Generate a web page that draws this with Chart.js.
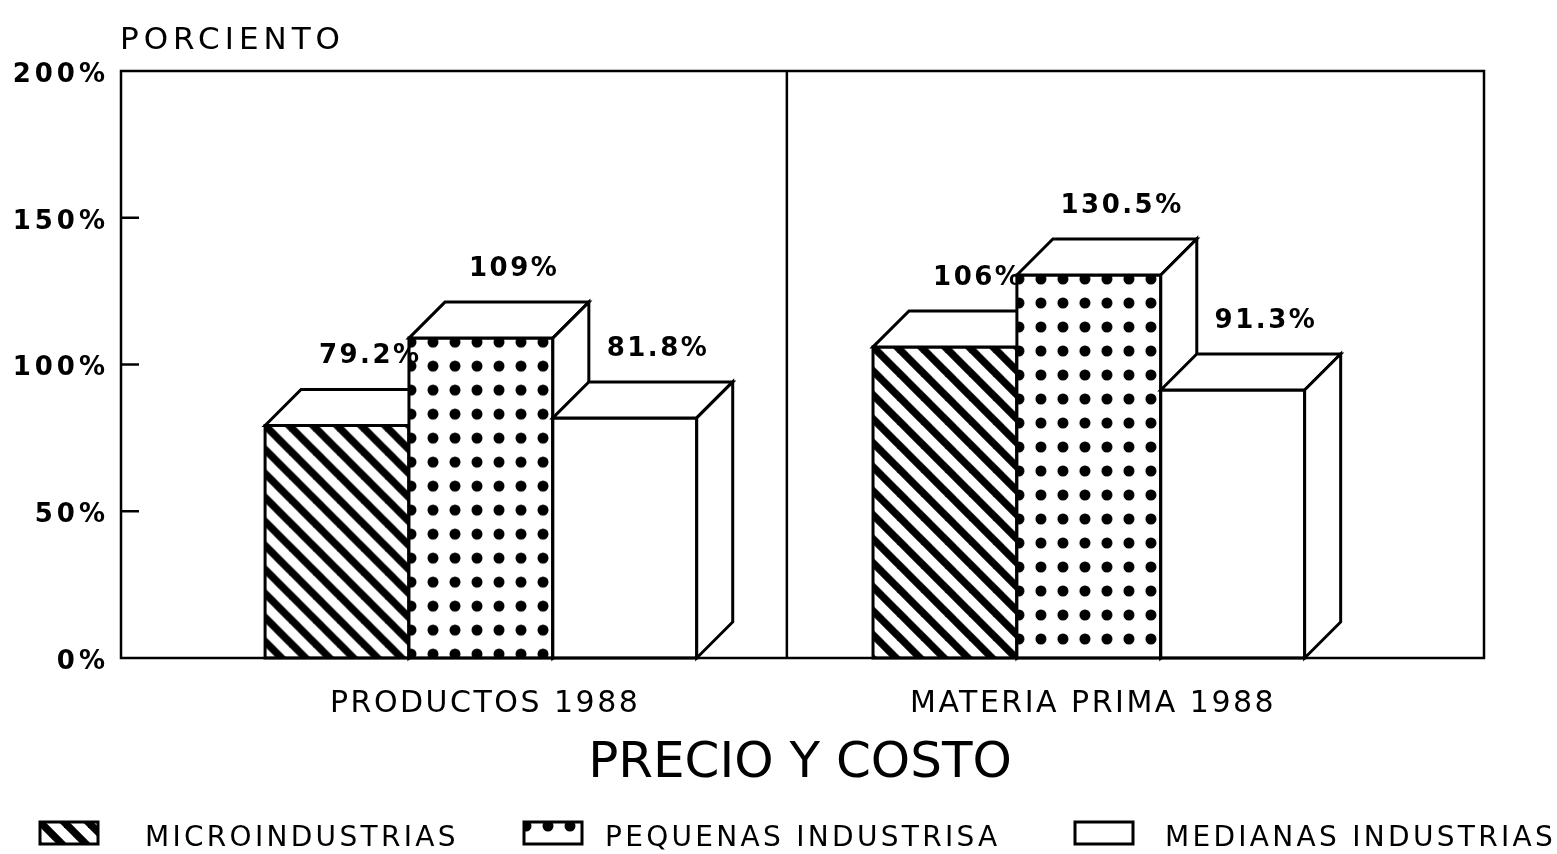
<!DOCTYPE html>
<html>
<head>
<meta charset="utf-8">
<script src="https://cdn.jsdelivr.net/npm/chart.js@4.4.1/dist/chart.umd.min.js"></script>
<style>
  html, body { margin: 0; padding: 0; background: #fff; }
</style>
</head>
<body>
<canvas id="chart" width="1557" height="854"></canvas>
<script>
const categories = ['PRODUCTOS 1988', 'MATERIA PRIMA 1988']
const positions = [0, 1]
const seriesNames = ['MICROINDUSTRIAS', 'PEQUENAS INDUSTRISA', 'MEDIANAS INDUSTRIAS']
const micro = [79.2, 106]
const pequenas = [109, 130.5]
const medianas = [81.8, 91.3]
const yTicks = [0, 50, 100, 150, 200]

const series = [micro, pequenas, medianas]
const DEPTH = 36
const FONT = 'DejaVu Sans'

// diagonal "\" stripes
function makeHatch() {
  const p = 24
  const c = document.createElement('canvas')
  c.width = p; c.height = p
  const g = c.getContext('2d')
  g.fillStyle = '#fff'
  g.fillRect(0, 0, p, p)
  g.strokeStyle = '#000'
  g.lineWidth = 7.5
  for (let k = -1; k <= 1; k++) {
    g.beginPath()
    g.moveTo(k * p - p, -p)
    g.lineTo(k * p + 2 * p, 2 * p)
    g.stroke()
  }
  return g.createPattern(c, 'repeat')
}

// grid of round dots
function makeDots() {
  const w = 22, h = 24
  const c = document.createElement('canvas')
  c.width = w; c.height = h
  const g = c.getContext('2d')
  g.fillStyle = '#fff'
  g.fillRect(0, 0, w, h)
  g.fillStyle = '#000'
  g.beginPath()
  g.arc(w / 2, h / 2, 5.5, 0, Math.PI * 2)
  g.fill()
  return g.createPattern(c, 'repeat')
}

const fills = [makeHatch(), makeDots(), '#fff']
// where each pattern's origin sits relative to the top-left of the face it fills
const fillOrigin = [[0, 0], [2 - 11, 4 - 12], [0, 0]]

function fillFace(ctx, i, left, top, scale) {
  const f = fills[i]
  if (typeof f !== 'string') {
    const m = new DOMMatrix().translate(left + fillOrigin[i][0], top + fillOrigin[i][1])
    f.setTransform(scale ? m.scale(scale) : m)
  }
  ctx.fillStyle = f
}

function spacedText(ctx, text, x, y, spacing, align) {
  ctx.letterSpacing = '0px'
  const w = ctx.measureText(text).width + spacing * (text.length - 1)
  const left = align === 'center' ? x - w / 2 : align === 'right' ? x - w : x
  ctx.letterSpacing = spacing + 'px'
  ctx.textAlign = 'left'
  ctx.fillText(text, left, y)
  ctx.letterSpacing = '0px'
}

function poly(ctx, pts) {
  ctx.beginPath()
  ctx.moveTo(pts[0][0], pts[0][1])
  for (let k = 1; k < pts.length; k++) ctx.lineTo(pts[k][0], pts[k][1])
  ctx.closePath()
  ctx.fill()
  ctx.stroke()
}

const boxes3d = {
  id: 'boxes3d',
  beforeDraw(chart) {
    // wider spacing for the y tick labels drawn by the scale
    chart.ctx.letterSpacing = '4px'
  },
  beforeDatasetsDraw(chart) {
    chart.ctx.letterSpacing = '0px'
  },
  afterDatasetsDraw(chart) {
    const { ctx, chartArea: a, scales: { x, y } } = chart
    ctx.save()
    ctx.strokeStyle = '#000'
    ctx.lineWidth = 2.5
    ctx.lineJoin = 'miter'

    // divider between the two groups
    const mid = x.getPixelForValue((positions[0] + positions[1]) / 2) + 2
    ctx.beginPath()
    ctx.moveTo(mid, a.top)
    ctx.lineTo(mid, a.bottom)
    ctx.stroke()

    // boxes, painted left to right so each front hides the previous side
    ctx.lineWidth = 3
    positions.forEach((p, j) => {
      series.forEach((vals, i) => {
        const bar = chart.getDatasetMeta(i).data[j]
        const L = bar.x - bar.width / 2
        const R = bar.x + bar.width / 2
        const T = bar.y
        const B = bar.base
        fillFace(ctx, i, L, T)
        poly(ctx, [[L, T], [R, T], [R, B], [L, B]])
        ctx.fillStyle = '#fff'
        poly(ctx, [[L, T], [L + DEPTH, T - DEPTH], [R + DEPTH, T - DEPTH], [R, T]])
        poly(ctx, [[R, T], [R + DEPTH, T - DEPTH], [R + DEPTH, B - DEPTH], [R, B]])
      })
    })

    // value labels above each box
    ctx.fillStyle = '#000'
    ctx.font = 'bold 26px "' + FONT + '"'
    ctx.textBaseline = 'middle'
    positions.forEach((p, j) => {
      series.forEach((vals, i) => {
        const bar = chart.getDatasetMeta(i).data[j]
        spacedText(ctx, vals[j] + '%', bar.x + 32, bar.y - DEPTH - 33, 2.5, 'center')
      })
    })

    // frame and inward tick marks
    ctx.lineWidth = 2.5
    ctx.strokeRect(a.left, a.top, a.right - a.left, a.bottom - a.top)
    ctx.lineWidth = 2.5
    yTicks.slice(1, -1).forEach(v => {
      const py = y.getPixelForValue(v)
      ctx.beginPath()
      ctx.moveTo(a.left, py)
      ctx.lineTo(a.left + 18, py)
      ctx.stroke()
    })

    // texts
    ctx.textBaseline = 'alphabetic'
    ctx.font = '31px "' + FONT + '"'
    spacedText(ctx, 'PORCIENTO', 120, 49, 5, 'left')
    ctx.font = '30px "' + FONT + '"'
    categories.forEach((c, j) => {
      spacedText(ctx, c, x.getPixelForValue(positions[j]) + 3, 712, 2.5, 'center')
    })
    ctx.font = '50px "' + FONT + '"'
    spacedText(ctx, 'PRECIO Y COSTO', 800, 777, 0, 'center')

    // legend
    const swatchLeft = [40, 524, 1075]
    const textLeft = [145, 605, 1165]
    ctx.font = '28px "' + FONT + '"'
    seriesNames.forEach((name, i) => {
      const sx = swatchLeft[i], sy = 822
      ctx.lineWidth = 3
      fillFace(ctx, i, sx, sy, i === 0 ? 1.0 : 0)
      poly(ctx, [[sx, sy], [sx + 58, sy], [sx + 58, sy + 22], [sx, sy + 22]])
      ctx.fillStyle = '#000'
      spacedText(ctx, name, textLeft[i], 846, 3.3, 'left')
    })
    ctx.restore()
  }
}

new Chart(document.getElementById('chart'), {
  type: 'bar',
  data: {
    datasets: seriesNames.map((name, i) => ({
      label: name,
      data: positions.map((p, j) => ({ x: p, y: series[i][j] })),
      backgroundColor: fills[i],
      borderColor: '#000',
      borderWidth: 2,
      categoryPercentage: 0.71,
      barPercentage: 1.0
    }))
  },
  options: {
    responsive: false,
    animation: false,
    layout: { padding: { top: 71, right: 73, bottom: 196, left: 0 } },
    plugins: { legend: { display: false }, tooltip: { enabled: false } },
    scales: {
      x: {
        type: 'linear',
        min: -0.592,
        max: 1.65,
        offset: false,
        grid: { display: false, drawTicks: false },
        border: { display: false },
        ticks: { display: false },
        afterBuildTicks: s => { s.ticks = positions.map(v => ({ value: v })) },
        afterFit: s => { s.height = 0 }
      },
      y: {
        min: 0,
        max: 200,
        grid: { display: false, drawTicks: false },
        border: { display: false },
        afterBuildTicks: s => { s.ticks = yTicks.map(v => ({ value: v })) },
        ticks: {
          callback: v => v + '%',
          color: '#000',
          font: { family: FONT, size: 26, weight: 'bold' },
          padding: 12,
          labelOffset: 4
        },
        afterFit: s => { s.width = 121 }
      }
    }
  },
  plugins: [boxes3d]
})
</script>
</body>
</html>
